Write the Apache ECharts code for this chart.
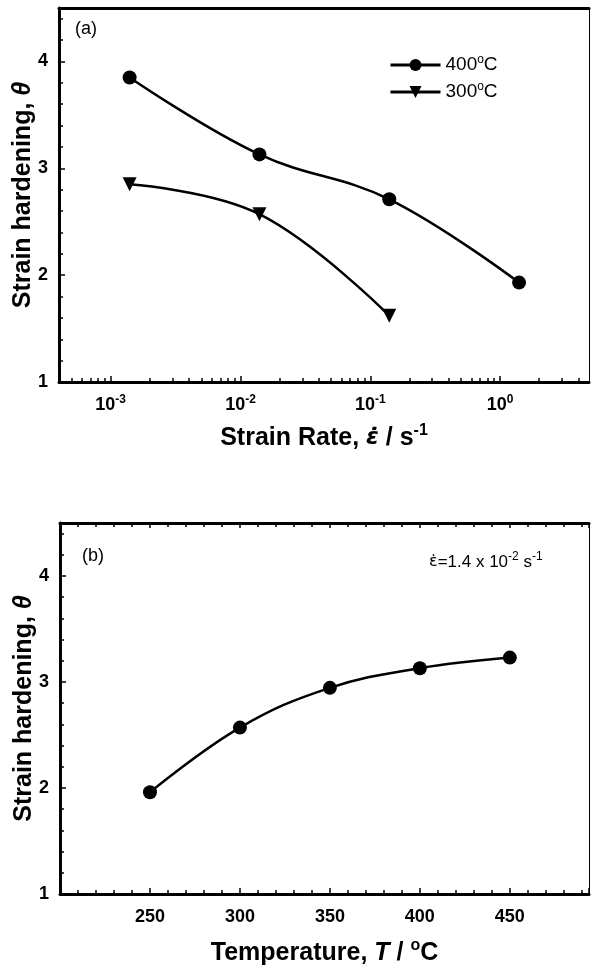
<!DOCTYPE html>
<html>
<head>
<meta charset="utf-8">
<script src="https://cdn.jsdelivr.net/npm/echarts@6/dist/echarts.min.js"></script>
<style>
html, body { margin: 0; padding: 0; background: #fff; }
#main { width: 591px; height: 969px; }
</style>
</head>
<body>
<div id="main"></div>
<script>
// panel (a): strain hardening vs strain rate
const rate400 = [1.4e-3, 1.4e-2, 1.4e-1, 1.4];
const theta400 = [3.85, 3.13, 2.71, 1.93];
const rate300 = [1.4e-3, 1.4e-2, 1.4e-1];
const theta300 = [2.85, 2.57, 1.62];
// panel (b): strain hardening vs temperature
const temps = [250, 300, 350, 400, 450];
const thetaT = [1.96, 2.57, 2.945, 3.13, 3.23];

const rateMajor = [1e-3, 1e-2, 1e-1, 1];
const rateMinor = [];
[1e-4, 1e-3, 1e-2, 1e-1, 1].forEach(function (d) {
  for (let k = 2; k <= 9; k++) {
    const v = +(d * k).toPrecision(3);
    if (v > 4.1e-4 && v < 4.8) rateMinor.push(v);
  }
});

const font = "'Liberation Sans', Arial, sans-serif";
const greek = "'DejaVu Sans', sans-serif";
const black = '#000';
const rateMin = 4e-4, rateMax = 4.84;
const tMin = 200, tMax = 494;

const tickRich = {
  b: { fontSize: 18, fontWeight: 'bold', fontFamily: font, color: black, lineHeight: 22 },
  s: { fontSize: 12, fontWeight: 'bold', fontFamily: font, color: black, lineHeight: 12, verticalAlign: 'top' }
};
const nameStyle = {
  fontSize: 25, fontWeight: 'bold', fontFamily: font, color: black, lineHeight: 30,
  rich: {
    i: { fontSize: 25, fontWeight: 'bold', fontStyle: 'italic', fontFamily: font, color: black, lineHeight: 30 },
    e: { fontSize: 23, fontWeight: 'bold', fontStyle: 'italic', fontFamily: greek, color: black, lineHeight: 30 },
    s: { fontSize: 16, fontWeight: 'bold', fontFamily: font, color: black, lineHeight: 16, verticalAlign: 'top' }
  }
};
const lineW = 3;

function frameAxis(grid, pos, type, min, max) {
  return {
    type: type, gridIndex: grid, position: pos, min: min, max: max,
    axisLine: { show: true, onZero: false, lineStyle: { color: black, width: pos === 'right' ? 1 : lineW } },
    axisTick: { show: false }, axisLabel: { show: false }, splitLine: { show: false }
  };
}

function yLeft(grid) {
  return {
    type: 'value', gridIndex: grid, position: 'left', min: 1, max: 4.5, interval: 1,
    name: 'Strain hardening, {i|θ}', nameLocation: 'middle', nameGap: 21, nameMoveOverlap: false,
    nameTextStyle: nameStyle,
    axisLine: { show: true, onZero: false, lineStyle: { color: black, width: lineW } },
    axisTick: { inside: true, length: 6, lineStyle: { color: black, width: 1.5 } },
    minorTick: { show: true, splitNumber: 5, length: 4, lineStyle: { color: black, width: 1.5 } },
    axisLabel: { margin: 11, fontSize: 18, fontWeight: 'bold', fontFamily: font, color: black, showMaxLabel: false },
    splitLine: { show: false }, minorSplitLine: { show: false }
  };
}

const chart = echarts.init(document.getElementById('main'), null, { renderer: 'canvas' });

chart.setOption({
  backgroundColor: '#fff',
  animation: false,
  grid: [
    { left: 59, top: 8, width: 530, height: 374, outerBoundsMode: 'none', containLabel: false },
    { left: 60, top: 523, width: 529, height: 371, outerBoundsMode: 'none', containLabel: false }
  ],
  legend: {
    data: ['400°C', '300°C'],
    orient: 'vertical', left: 384, top: 49,
    itemWidth: 50, itemHeight: 15, itemGap: 5,
    lineStyle: { width: 3 },
    formatter: function (n) { return n.slice(0, 3) + '{s|o}C'; },
    textStyle: {
      fontSize: 19, fontFamily: font, color: black, lineHeight: 22,
      rich: { s: { fontSize: 12, fontFamily: font, color: black, lineHeight: 12, verticalAlign: 'top' } }
    }
  },
  xAxis: [
    {
      type: 'log', gridIndex: 0, position: 'bottom', min: rateMin, max: rateMax,
      name: 'Strain Rate, {e|ε̇} / s{s|-1}', nameLocation: 'middle', nameGap: 41, nameMoveOverlap: false,
      nameTextStyle: nameStyle,
      axisLine: { show: true, onZero: false, lineStyle: { color: black, width: lineW } },
      axisTick: { inside: true, length: 6, customValues: rateMajor, lineStyle: { color: black, width: 1.5 } },
      axisLabel: {
        margin: 12, customValues: rateMajor, rich: tickRich,
        formatter: function (v) { return '{b|10}{s|' + Math.round(Math.log10(v)) + '}'; }
      },
      splitLine: { show: false }
    },
    {
      type: 'log', gridIndex: 0, position: 'bottom', min: rateMin, max: rateMax,
      axisLine: { show: false },
      axisTick: { inside: true, length: 4, customValues: rateMinor, lineStyle: { color: black, width: 1.5 } },
      axisLabel: { show: false }, splitLine: { show: false }
    },
    frameAxis(0, 'top', 'log', rateMin, rateMax),
    {
      type: 'value', gridIndex: 1, position: 'bottom', min: tMin, max: tMax, interval: 50,
      name: 'Temperature, {i|T} / {s|o}C', nameLocation: 'middle', nameGap: 44, nameMoveOverlap: false,
      nameTextStyle: nameStyle,
      axisLine: { show: true, onZero: false, lineStyle: { color: black, width: lineW } },
      axisTick: { inside: true, length: 6, lineStyle: { color: black, width: 1.5 } },
      minorTick: { show: true, splitNumber: 5, length: 4, lineStyle: { color: black, width: 1.5 } },
      axisLabel: {
        margin: 14, fontSize: 18, fontWeight: 'bold', fontFamily: font, color: black,
        formatter: function (v) { return v >= 250 && v <= 450 ? String(v) : ''; }
      },
      splitLine: { show: false }, minorSplitLine: { show: false }
    },
    {
      type: 'value', gridIndex: 1, position: 'top', min: tMin, max: tMax, interval: 50,
      axisLine: { show: true, onZero: false, lineStyle: { color: black, width: lineW } },
      axisTick: { inside: true, length: 5, lineStyle: { color: black, width: 1.5 } },
      minorTick: { show: true, splitNumber: 5, length: 4, lineStyle: { color: black, width: 1.5 } },
      axisLabel: { show: false }, splitLine: { show: false }, minorSplitLine: { show: false }
    }
  ],
  yAxis: [
    yLeft(0),
    frameAxis(0, 'right', 'value', 1, 4.5),
    yLeft(1),
    frameAxis(1, 'right', 'value', 1, 4.5)
  ],
  graphic: [
    { type: 'text', left: 75, top: 20, style: { text: '(a)', fontSize: 18, fontFamily: font, fill: black } },
    { type: 'text', left: 82, top: 547, style: { text: '(b)', fontSize: 18, fontFamily: font, fill: black } },
    {
      type: 'text', left: 429, top: 551,
      style: {
        text: '{e|ε̇}=1.4 x 10{s|-2} s{s|-1}',
        fontSize: 17, fontFamily: font, fill: black, lineHeight: 22,
        rich: {
          e: { fontSize: 16, fontFamily: greek, fill: black, lineHeight: 22 },
          s: { fontSize: 12, fontFamily: font, fill: black, lineHeight: 12, verticalAlign: 'top' }
        }
      }
    }
  ],
  series: [
    {
      name: '400°C', type: 'line', xAxisIndex: 0, yAxisIndex: 0,
      data: rate400.map(function (x, i) { return [x, theta400[i]]; }),
      smooth: 0.4, symbol: 'circle', symbolSize: 14,
      lineStyle: { color: black, width: 2.5 }, itemStyle: { color: black }
    },
    {
      name: '300°C', type: 'line', xAxisIndex: 0, yAxisIndex: 0,
      data: rate300.map(function (x, i) { return [x, theta300[i]]; }),
      smooth: 0.4, symbol: 'triangle', symbolRotate: 180, symbolSize: 14,
      lineStyle: { color: black, width: 2.5 }, itemStyle: { color: black }
    },
    {
      name: 'T', type: 'line', xAxisIndex: 3, yAxisIndex: 2,
      data: temps.map(function (x, i) { return [x, thetaT[i]]; }),
      smooth: 0.4, symbol: 'circle', symbolSize: 14,
      lineStyle: { color: black, width: 2.5 }, itemStyle: { color: black }
    }
  ]
});
</script>
</body>
</html>
